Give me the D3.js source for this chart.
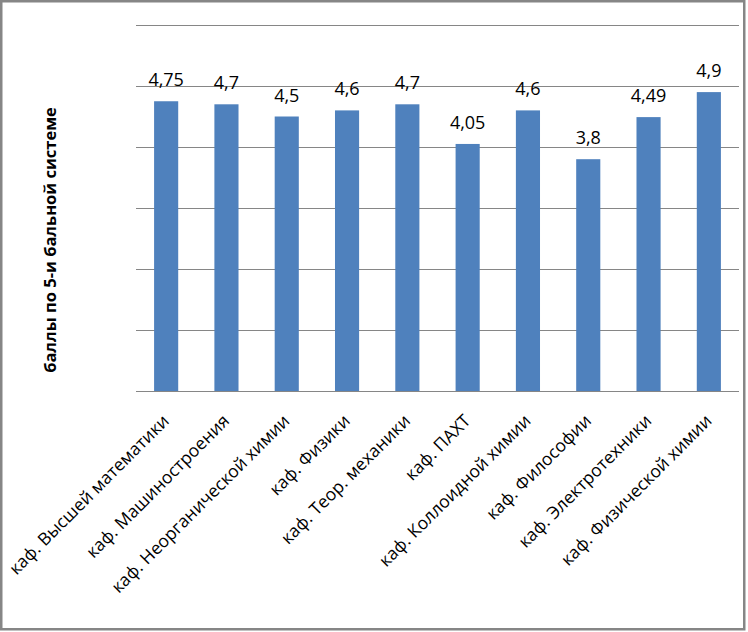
<!DOCTYPE html>
<html><head><meta charset="utf-8">
<script src="https://cdn.jsdelivr.net/npm/d3@7"></script>
<style>body{margin:0;background:#fff}svg{display:block}</style>
</head><body><svg id="c" width="748" height="632"></svg>
<script>
const categories = ["каф. Высшей математики","каф. Машиностроения","каф. Неорганической химии","каф. Физики","каф. Теор. механики","каф. ПАХТ","каф. Коллоидной химии","каф. Философии","каф. Электротехники","каф. Физической химии"];
const values = [4.75,4.7,4.5,4.6,4.7,4.05,4.6,3.8,4.49,4.9];
const labels = ["4,75","4,7","4,5","4,6","4,7","4,05","4,6","3,8","4,49","4,9"];
const yTicks = [0,1,2,3,4,5,6];
const yTitle = "баллы по 5-и бальной системе";

const svg = d3.select("#c");
const font = "'Open Sans', sans-serif";
svg.append("rect").attr("x",1.25).attr("y",1.25).attr("width",743).attr("height",628)
  .attr("fill","#fff").attr("stroke","#868686").attr("stroke-width",2.5);

const x = d3.scaleBand().domain(categories).range([136,739]).paddingInner(0.6).paddingOuter(0.3);
const y = d3.scaleLinear().domain([0,6]).range([391,25]);

svg.append("g").selectAll("line").data(yTicks).join("line")
  .attr("x1",136).attr("x2",739).attr("y1",d=>Math.round(y(d))+0.5).attr("y2",d=>Math.round(y(d))+0.5)
  .attr("stroke","#868686").attr("stroke-width",1);

svg.append("g").selectAll("rect").data(values).join("rect")
  .attr("x",(d,i)=>x(categories[i])).attr("width",x.bandwidth())
  .attr("y",d=>y(d)).attr("height",d=>y(0)-y(d)).attr("fill","#4F81BD");

svg.append("line").attr("x1",136).attr("x2",739).attr("y1",391.5).attr("y2",391.5).attr("stroke","#868686");

svg.append("g").selectAll("text").data(values).join("text")
  .attr("x",(d,i)=>x(categories[i])+x.bandwidth()/2).attr("y",d=>y(d)-15)
  .attr("text-anchor","middle").attr("font-family",font).attr("font-size",18).attr("fill","#000")
  .text((d,i)=>labels[i]);

const xAxis = d3.axisBottom(x).tickSize(0).tickPadding(0);
const gx = svg.append("g").attr("transform","translate(0,391)").call(xAxis);
gx.select(".domain").remove();
gx.selectAll("text").attr("font-family",font).attr("font-size",17.5).attr("fill","#000")
  .attr("text-anchor","end").attr("dy",0)
  .attr("transform","translate(4,31) rotate(-45)");

svg.append("text").attr("transform","translate(56,240) rotate(-90)")
  .attr("text-anchor","middle").attr("font-family",font).attr("font-size",16.5).attr("font-weight","bold")
  .text(yTitle);
</script></body></html>
